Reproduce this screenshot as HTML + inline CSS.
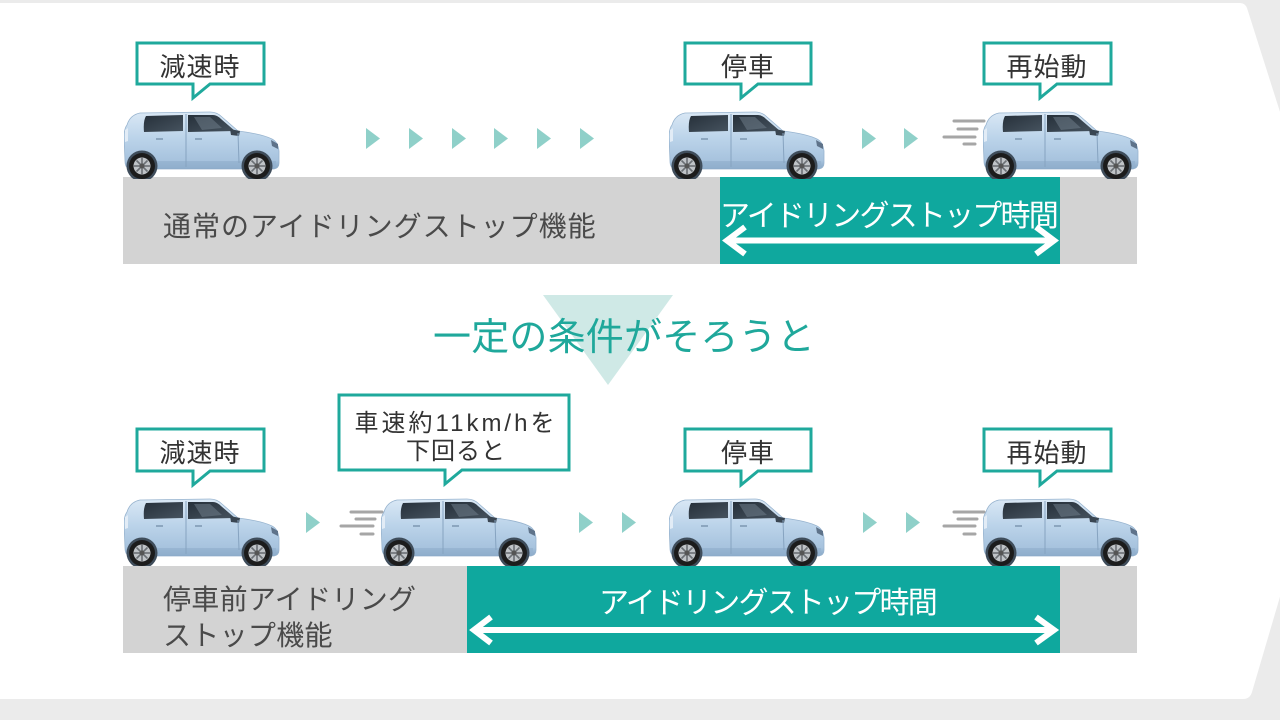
<!DOCTYPE html>
<html>
<head>
<meta charset="utf-8">
<style>
  html,body{margin:0;padding:0;background:#ebebeb;}
  body{width:1280px;height:720px;overflow:hidden;}
  svg{display:block;}
  text{font-family:"Liberation Sans","Noto Sans CJK JP",sans-serif;}
</style>
</head>
<body>
<svg width="1280" height="720" viewBox="0 0 1280 720" xmlns="http://www.w3.org/2000/svg">
  <defs>
    <linearGradient id="bodyg" x1="0" y1="0" x2="0" y2="1">
      <stop offset="0" stop-color="#dae8f5"/>
      <stop offset="0.45" stop-color="#bcd4ea"/>
      <stop offset="0.85" stop-color="#a7c3de"/>
      <stop offset="1" stop-color="#86a6c4"/>
    </linearGradient>
    <linearGradient id="wing" x1="0" y1="0" x2="1" y2="1">
      <stop offset="0" stop-color="#26303a"/>
      <stop offset="1" stop-color="#46535f"/>
    </linearGradient>
    <symbol id="car" viewBox="0 0 156 68">
      <!-- body -->
      <path d="M3,14 Q6,4 16,2 L86,1 Q93,1 98,6 L114,20 Q138,23 148,28 Q154,31 155,40 L155,52 Q155,57 150,58 L6,58 Q1,57 1,50 L0,26 Q0,18 3,14 Z" fill="url(#bodyg)" stroke="#98b4cf" stroke-width="0.8"/>
      <!-- rocker shade -->
      <path d="M4,50 L152,50 L152,57 L6,57 Z" fill="#93b1ce" opacity="0.7"/>
      <!-- windows -->
      <path d="M22,5 L59,4 L59,20 L20,21 Q19,10 22,5 Z" fill="url(#wing)"/>
      <path d="M64,4 L89,4 Q93,4 97,8 L111,20 L64,21 Z" fill="url(#wing)"/>
      <path d="M70,6 L86,6 L98,17 L78,19 Z" fill="#6d7b88" opacity="0.55"/>
      <!-- mirror -->
      <path d="M106,18 L116,20 L115,25 L107,24 Z" fill="#3a4652"/>
      <!-- door lines -->
      <line x1="62" y1="3" x2="62" y2="56" stroke="#86a3c0" stroke-width="1"/>
      <line x1="114" y1="22" x2="115" y2="52" stroke="#86a3c0" stroke-width="1"/>
      <!-- handles -->
      <line x1="32" y1="28" x2="39" y2="28" stroke="#7d97b1" stroke-width="1.5"/>
      <line x1="71" y1="28" x2="78" y2="28" stroke="#7d97b1" stroke-width="1.5"/>
      <!-- lights -->
      <path d="M147,29 L154,33 L154,38 L148,35 Z" fill="#5f738a"/>
      <path d="M1,19 L4,17 L4,30 L1,31 Z" fill="#e2ecf6"/>
      <!-- wheel arches -->
      <circle cx="18" cy="55" r="15.5" fill="#3f4d5b"/>
      <circle cx="133" cy="55" r="15.5" fill="#3f4d5b"/>
      <!-- tires -->
      <circle cx="18" cy="55" r="13" fill="#1c1c1c"/>
      <circle cx="133" cy="55" r="13" fill="#1c1c1c"/>
      <circle cx="18" cy="55" r="8.5" fill="#bfc3c7"/>
      <circle cx="133" cy="55" r="8.5" fill="#bfc3c7"/>
      <g stroke="#6b7075" stroke-width="1.6">
        <line x1="18" y1="47" x2="18" y2="63"/><line x1="10" y1="55" x2="26" y2="55"/>
        <line x1="12.5" y1="49.5" x2="23.5" y2="60.5"/><line x1="23.5" y1="49.5" x2="12.5" y2="60.5"/>
        <line x1="133" y1="47" x2="133" y2="63"/><line x1="125" y1="55" x2="141" y2="55"/>
        <line x1="127.5" y1="49.5" x2="138.5" y2="60.5"/><line x1="138.5" y1="49.5" x2="127.5" y2="60.5"/>
      </g>
      <circle cx="18" cy="55" r="2.5" fill="#555"/>
      <circle cx="133" cy="55" r="2.5" fill="#555"/>
    </symbol>
  </defs>

  <!-- white panel -->
  <path d="M0,3 H1240 Q1245,3 1247,8 L1354,345 L1252,692 Q1250,699 1243,699 H0 Z" fill="#ffffff"/>

  <!-- ===== TOP SECTION ===== -->
  <rect x="123" y="177" width="1014" height="87" fill="#d3d3d3"/>
  <rect x="720" y="177" width="340" height="87" fill="#0fa89e"/>
  <text x="163" y="236" font-size="28" fill="#4a4a4a" letter-spacing="1">通常のアイドリングストップ機能</text>
  <text x="720" y="226" font-size="30" fill="#ffffff" letter-spacing="-1.8">アイドリングストップ時間</text>
  <line x1="730" y1="240.5" x2="1052" y2="240.5" stroke="#fff" stroke-width="6"/>
  <polyline points="745,227 727,240.5 745,254" fill="none" stroke="#fff" stroke-width="6"/>
  <polyline points="1036,227 1054,240.5 1036,254" fill="none" stroke="#fff" stroke-width="6"/>

  <!-- top triangles -->
  <g fill="#8fd0c9">
    <path d="M366,128 L380,138.5 L366,149 Z"/>
    <path d="M409,128 L423,138.5 L409,149 Z"/>
    <path d="M452,128 L466,138.5 L452,149 Z"/>
    <path d="M494,128 L508,138.5 L494,149 Z"/>
    <path d="M537,128 L551,138.5 L537,149 Z"/>
    <path d="M580,128 L594,138.5 L580,149 Z"/>
    <path d="M862,128 L876,138.5 L862,149 Z"/>
    <path d="M904,128 L918,138.5 L904,149 Z"/>
  </g>
  <!-- top speed lines -->
  <g stroke="#a6a6a6" stroke-width="3" stroke-linecap="round">
    <line x1="954" y1="121" x2="984" y2="121"/>
    <line x1="958" y1="129" x2="977" y2="129"/>
    <line x1="944" y1="137" x2="975" y2="137"/>
    <line x1="964" y1="144" x2="975" y2="144"/>
  </g>

  <!-- top cars -->
  <use href="#car" x="124" y="111" width="156" height="68"/>
  <use href="#car" x="669" y="111" width="156" height="68"/>
  <use href="#car" x="983" y="111" width="156" height="68"/>

  <!-- top callouts -->
  <g fill="#ffffff" stroke="#1fa99c" stroke-width="3">
    <path d="M137,43 H264 V84 H210 L193,98 V84 H137 Z"/>
    <path d="M685,43 H811 V84 H758 L741,98 V84 H685 Z"/>
    <path d="M984,43 H1111 V84 H1057 L1040,98 V84 H984 Z"/>
  </g>
  <g font-size="26" fill="#333" text-anchor="middle" letter-spacing="1">
    <text x="200" y="76">減速時</text>
    <text x="748" y="76">停車</text>
    <text x="1047" y="76">再始動</text>
  </g>

  <!-- ===== MIDDLE ===== -->
  <path d="M543,295 L673,295 L608,385 Z" fill="#cfe9e6"/>
  <text x="433" y="350" font-size="38" fill="#1fa89b" letter-spacing="0.2">一定の条件がそろうと</text>

  <!-- ===== BOTTOM SECTION ===== -->
  <rect x="123" y="566" width="1014" height="87" fill="#d3d3d3"/>
  <rect x="467" y="566" width="593" height="87" fill="#0fa89e"/>
  <text x="163" y="609" font-size="28" fill="#4a4a4a" letter-spacing="0.3">停車前アイドリング</text>
  <text x="163" y="645" font-size="28" fill="#4a4a4a" letter-spacing="0.3">ストップ機能</text>
  <text x="599" y="613" font-size="30" fill="#ffffff" letter-spacing="-1.8">アイドリングストップ時間</text>
  <line x1="476" y1="630" x2="1052" y2="630" stroke="#fff" stroke-width="6"/>
  <polyline points="491,617 474,630 491,643" fill="none" stroke="#fff" stroke-width="6"/>
  <polyline points="1036,617 1054,630 1036,643" fill="none" stroke="#fff" stroke-width="6"/>

  <!-- bottom triangles -->
  <g fill="#8fd0c9">
    <path d="M306,512 L320,522.5 L306,533 Z"/>
    <path d="M579,512 L593,522.5 L579,533 Z"/>
    <path d="M622,512 L636,522.5 L622,533 Z"/>
    <path d="M863,512 L877,522.5 L863,533 Z"/>
    <path d="M906,512 L920,522.5 L906,533 Z"/>
  </g>
  <!-- bottom speed lines -->
  <g stroke="#a6a6a6" stroke-width="3" stroke-linecap="round">
    <line x1="351" y1="512" x2="382" y2="512"/>
    <line x1="356" y1="519" x2="375" y2="519"/>
    <line x1="341" y1="526" x2="373" y2="526"/>
    <line x1="361" y1="534" x2="373" y2="534"/>
    <line x1="954" y1="512" x2="984" y2="512"/>
    <line x1="958" y1="519" x2="977" y2="519"/>
    <line x1="944" y1="526" x2="975" y2="526"/>
    <line x1="964" y1="534" x2="975" y2="534"/>
  </g>

  <!-- bottom cars -->
  <use href="#car" x="124" y="498" width="156" height="68"/>
  <use href="#car" x="381" y="498" width="156" height="68"/>
  <use href="#car" x="669" y="498" width="156" height="68"/>
  <use href="#car" x="983" y="498" width="156" height="68"/>

  <!-- bottom callouts -->
  <g fill="#ffffff" stroke="#1fa99c" stroke-width="3">
    <path d="M137,429 H264 V471 H210 L193,485 V471 H137 Z"/>
    <path d="M339,395 H569 V470 H462 L445,484 V470 H339 Z"/>
    <path d="M685,429 H811 V471 H758 L741,485 V471 H685 Z"/>
    <path d="M984,429 H1111 V471 H1057 L1040,485 V471 H984 Z"/>
  </g>
  <g font-size="26" fill="#333" text-anchor="middle" letter-spacing="1">
    <text x="200" y="462">減速時</text>
    <text x="748" y="462">停車</text>
    <text x="1047" y="462">再始動</text>
  </g>
  <g font-size="24" fill="#333" text-anchor="middle">
    <text x="456" y="431" letter-spacing="3">車速約11km/hを</text>
    <text x="456" y="459" letter-spacing="1">下回ると</text>
  </g>
</svg>
</body>
</html>
